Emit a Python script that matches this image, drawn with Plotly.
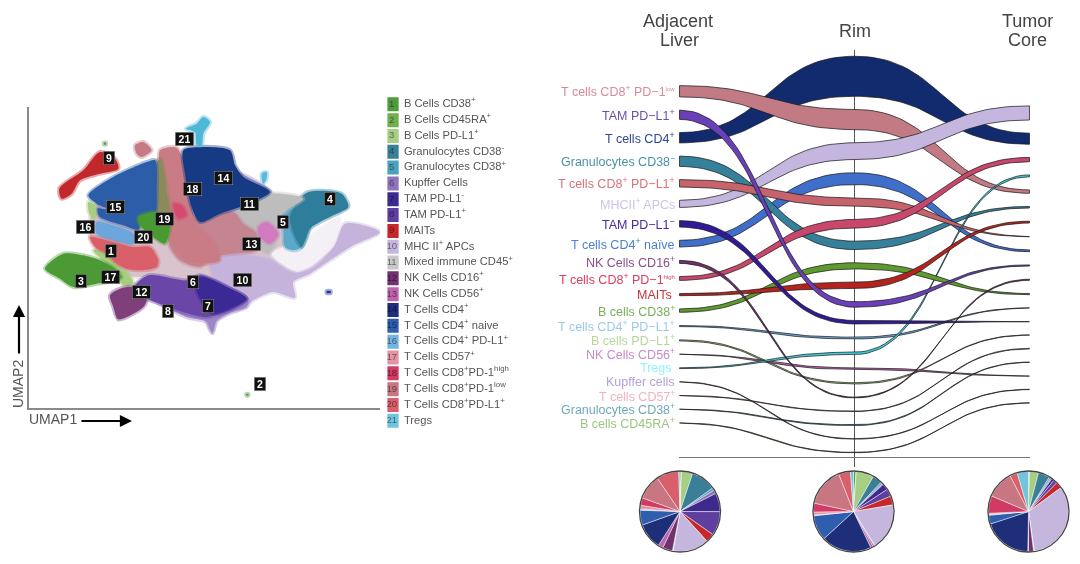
import plotly.graph_objects as go
import numpy as np

W, H = 1080, 564
FONT = "Liberation Sans, Arial, sans-serif"

# ---------- legend / pie data ----------
legend_labels = ["B Cells CD38<sup>+</sup>", "B Cells CD45RA<sup>+</sup>", "B Cells PD-L1<sup>+</sup>",
                 "Granulocytes CD38<sup>-</sup>", "Granulocytes CD38<sup>+</sup>", "Kupffer Cells",
                 "TAM PD-L1<sup>-</sup>", "TAM PD-L1<sup>+</sup>", "MAITs", "MHC II<sup>+</sup> APCs",
                 "Mixed immune CD45<sup>+</sup>", "NK Cells CD16<sup>+</sup>", "NK Cells CD56<sup>+</sup>",
                 "T Cells CD4<sup>+</sup>", "T Cells CD4<sup>+</sup> naive", "T Cells CD4<sup>+</sup> PD-L1<sup>+</sup>",
                 "T Cells CD57<sup>+</sup>", "T Cells CD8<sup>+</sup>PD-1<sup>high</sup>",
                 "T Cells CD8<sup>+</sup>PD-1<sup>low</sup>", "T Cells CD8<sup>+</sup>PD-L1<sup>+</sup>", "Tregs"]
legend_numbers = list(range(1, 22))
legend_colors = ["#4F9A3C", "#6FAF4F", "#A6CF83", "#3A7F97", "#4CA2BE", "#8F74BC", "#3E2A8E", "#5E3FA0",
                 "#C5272B", "#C5B6DE", "#C8C8C8", "#70326F", "#BE63AE", "#1F2E78", "#2F5EAE", "#74B4E2",
                 "#E394A3", "#D03A64", "#C77682", "#D95F6B", "#72C3DE"]

pie_adjacent = [0.5, 0.1, 4.5, 10, 1, 1.5, 7.5, 9.7, 3.5, 14.5, 0.3, 4, 2, 10.5, 6, 0.5, 1.5, 3, 10, 9, 0.5]
pie_rim = [1, 0.1, 7, 3.8, 0.7, 0.5, 2.5, 3, 3.5, 18.5, 0.3, 0.5, 1, 20, 10, 0.3, 1.2, 3.5, 15.5, 4.7, 1.2]
pie_tumor = [0.3, 0.1, 3.6, 4.6, 0.7, 0.5, 1, 1.5, 2.5, 32.5, 0.3, 2, 0.3, 19.5, 3.5, 0.3, 0.5, 7, 11, 3, 4.5]

# ---------- alluvial data (abundance per stage, listed in stack order) ----------
stages = [["Adjacent", "Liver"], ["Rim"], ["Tumor", "Core"]]
adjacent_order = ["CD8low", "TAM+", "CD4", "Gran-", "CD8PDL1", "MHC", "TAM-", "naive", "NK16", "CD8high", "MAIT",
                  "B38", "CD4PDL1", "BPDL1", "NK56", "Tregs", "Kupffer", "CD57", "Gran+", "B45"]
adjacent_values = [11.3, 9.3, 10.3, 10.3, 7.5, 7.1, 6.5, 6.8, 3.1, 3.8, 2.1, 3.4, 1.1, 1.2, 0.4, 0.8, 0.5, 0.5, 0.5, 0.5]
rim_order = ["CD4", "CD8low", "MHC", "naive", "CD8PDL1", "CD8high", "Gran-", "B38", "MAIT", "TAM+", "TAM-", "CD4PDL1",
             "Tregs", "NK56", "BPDL1", "NK16", "CD57", "Gran+", "Kupffer", "B45"]
rim_values = [40, 20.1, 16.8, 11.8, 8.5, 8.5, 8.4, 6.2, 6.4, 5.5, 3.5, 1.8, 2.4, 1.8, 1.2, 0.8, 0.4, 0.8, 0.4, 0.4]
tumor_order = ["MHC", "CD4", "CD8high", "Tregs", "CD8low", "Gran-", "MAIT", "CD8PDL1", "naive", "TAM+", "NK16", "B38",
               "CD4PDL1", "TAM-", "BPDL1", "CD57", "Gran+", "NK56", "Kupffer", "B45"]
tumor_values = [14.1, 11.1, 4.2, 1.8, 3.4, 1.5, 1.8, 0.5, 1.8, 1.1, 1.1, 1.2, 0.4, 0.2, 0.3, 0.5, 0.3, 0.5, 0.3, 0.3]

ribbon_draw_order = ["B45", "Kupffer", "CD57", "Gran+", "BPDL1", "NK56", "CD4", "CD8low", "MHC", "naive", "Gran-",
                     "CD8PDL1", "CD8high", "CD4PDL1", "Tregs", "B38", "MAIT", "TAM-", "NK16", "TAM+"]
ribbon_colors = {"CD4": "#122A6E", "CD8low": "#C27A85", "MHC": "#C5B6E0", "naive": "#3F6FCB", "CD8PDL1": "#C7636C",
                 "CD8high": "#C9476B", "Gran-": "#35809A", "B38": "#5E9A2E", "MAIT": "#B5231F", "TAM+": "#6A3FB8",
                 "TAM-": "#321A96", "CD4PDL1": "#6BA8DE", "Tregs": "#3FD0E0", "NK16": "#70326F", "NK56": "#BE63AE",
                 "BPDL1": "#A6CF83", "Kupffer": "#8F74BC", "CD57": "#E394A3", "Gran+": "#4CA2BE", "B45": "#6FAF4F"}
tiny_low = '<sup><span style="font-size:6px">low</span></sup>'
tiny_high = '<sup><span style="font-size:6px">high</span></sup>'
row_labels = {"CD8low": "T cells CD8<sup>+</sup> PD−1" + tiny_low, "TAM+": "TAM PD−L1<sup>+</sup>",
              "CD4": "T cells CD4<sup>+</sup>", "Gran-": "Granulocytes CD38<sup>−</sup>",
              "CD8PDL1": "T cells CD8<sup>+</sup> PD−L1<sup>+</sup>", "MHC": "MHCII<sup>+</sup> APCs",
              "TAM-": "TAM PD−L1<sup>−</sup>", "naive": "T cells CD4<sup>+</sup> naïve",
              "NK16": "NK Cells CD16<sup>+</sup>", "CD8high": "T cells CD8<sup>+</sup> PD−1" + tiny_high,
              "MAIT": "MAITs&nbsp;", "B38": "B cells CD38<sup>+</sup>", "CD4PDL1": "T cells CD4<sup>+</sup> PD−L1<sup>+</sup>",
              "BPDL1": "B cells PD−L1<sup>+</sup>", "NK56": "NK Cells CD56<sup>+</sup>", "Tregs": "Tregs&nbsp;",
              "Kupffer": "Kupffer cells", "CD57": "T cells CD57<sup>+</sup>", "Gran+": "Granulocytes CD38<sup>+</sup>",
              "B45": "B cells CD45RA<sup>+</sup>"}
label_colors = {"CD8low": "#D88B97", "TAM+": "#6A4FB0", "CD4": "#2E4790", "Gran-": "#4A93A5", "CD8PDL1": "#D9727C",
                "MHC": "#CFC3E8", "TAM-": "#4A2A9E", "naive": "#4C7FD1", "NK16": "#8C4F87", "CD8high": "#D8405F",
                "MAIT": "#C9333A", "B38": "#79AF57", "CD4PDL1": "#9CC8F0", "BPDL1": "#B6D89A", "NK56": "#C98ACD",
                "Tregs": "#8FF5FA", "Kupffer": "#B3A1DB", "CD57": "#EDB4BF", "Gran+": "#6EA9BC", "B45": "#9CC57F"}
stack_gap = 13.2

# ---------- UMAP cluster outlines (embedding units) ----------
umap_haze = [(480,200),(560,200),(700,240),(820,310),(860,480),(880,560),(700,620),(560,575),(450,560),(380,555),(290,470),(265,420),(290,340),(400,300)]
umap_mhc = [(630,510),(700,490),(800,505),(870,530),(890,545),(940,520),(1000,470),(1035,400),(1140,425),(1060,465),(990,510),(930,550),(880,575),(885,622),(820,605),(760,630),(735,650),(690,665),(650,690),(637,728),(620,695),(640,640),(700,610),(640,560)]
umap_wisp = [(715,250),(760,268),(800,300),(770,300),(730,275)]
umap_white = [(815,490),(905,450),(1020,380),(1000,460),(930,530),(880,540)]
umap_gran5 = [(840,360),(905,325),(930,400),(905,470),(880,480),(855,470),(850,420)]
umap_gran4 = [(900,325),(925,305),(1025,310),(1045,350),(1000,375),(930,415),(905,470),(885,440),(870,380)]
umap_mixed = [(700,350),(815,310),(910,325),(860,360),(830,390),(835,440),(805,490),(770,470),(720,420)]
umap_nk56 = [(775,410),(800,395),(835,430),(810,460),(780,440)]
umap_mixcenter = [(505,395),(590,385),(650,370),(700,365),(730,400),(770,430),(770,480),(700,490),(640,500),(600,530),(540,510),(510,470)]
umap_cd8low = [(480,180),(530,172),(555,230),(590,400),(640,450),(660,510),(600,520),(560,510),(520,470),(510,410),(500,300),(480,230)]
umap_olive = [(462,235),(482,205),(500,300),(510,400),(470,375)]
umap_cd8high = [(520,340),(545,345),(560,375),(535,385)]
umap_cd4 = [(550,180),(600,170),(690,180),(705,225),(730,260),(810,305),(770,330),(720,350),(660,370),(600,395),(575,350),(555,250)]
umap_naive = [(265,315),(340,260),(440,215),(465,210),(470,300),(465,370),(425,395),(415,418),(370,405),(300,380),(290,355),(340,362),(290,340)]
umap_cd4pdl1 = [(290,395),(340,405),(400,430),(400,460),(340,450),(290,430)]
umap_bpdl1 = [(265,335),(285,345),(285,385),(268,370)]
umap_bpdl1b = [(280,480),(340,490),(350,520),(385,550),(400,580),(370,585),(330,530)]
umap_b38 = [(415,380),(465,365),(495,385),(510,400),(495,460),(460,440),(420,405)]
umap_cd8pdl1 = [(270,440),(340,455),(400,470),(450,470),(475,510),(470,530),(420,540),(380,535),(350,520),(320,490),(285,470)]
umap_bcd38 = [(135,535),(190,490),(250,495),(300,510),(345,535),(365,560),(350,570),(290,580),(220,590),(180,565)]
umap_fringe = [(470,635),(560,662),(640,680),(710,650),(745,630),(740,650),(690,668),(650,692),(637,728),(620,695),(560,680)]
umap_tamplus = [(400,595),(445,555),(560,570),(600,555),(700,600),(740,625),(700,655),(620,680),(560,668),(480,640),(440,625)]
umap_tamminus = [(600,560),(680,590),(740,625),(700,650),(640,670),(610,640),(590,600)]
umap_nk16 = [(330,615),(360,595),(395,590),(440,625),(430,650),(355,687),(340,650)]
umap_mait = [(178,295),(250,240),(300,185),(345,205),(355,235),(300,250),(240,270),(215,310),(185,325)]
umap_mait_pink = [(405,165),(430,155),(455,180),(425,200),(410,190)]
umap_tregs = [(590,100),(610,80),(630,95),(610,130),(605,165),(590,165),(585,125),(558,115)]
umap_spot = [(785,250),(800,245),(800,265),(790,280)]
umap_dot = [(980,602),(992,602),(992,608),(980,608)]
umap_speck = [(739,911),(745,911),(745,916),(739,916)]
umap_speck2 = [(312,157),(318,157),(318,163),(312,163)]

umap_clusters = [
    (umap_haze, "#D9C3CC"), (umap_mhc, "#C5B3DC"), (umap_wisp, "#C5B3DC"), (umap_white, "#F4F1F6"), (umap_gran5, "#5BA8C8"),
    (umap_gran4, "#2E7D9B"), (umap_mixed, "#BDBDBD"), (umap_mixcenter, "#C58590"), (umap_nk56, "#D37AC0"),
    (umap_cd8low, "#C97C86"), (umap_olive, "#8A8A5A"), (umap_cd8high, "#D64A70"), (umap_cd4, "#173A85"),
    (umap_naive, "#2C5DA8"), (umap_cd4pdl1, "#6CA6DC"), (umap_bpdl1, "#A8CC80"), (umap_bpdl1b, "#A8CC80"),
    (umap_b38, "#4A9A32"), (umap_cd8pdl1, "#D9606A"), (umap_bcd38, "#4C9A35"), (umap_fringe, "#9C84C8"),
    (umap_tamplus, "#6A46A8"), (umap_tamminus, "#3B2A95"), (umap_nk16, "#7E3F7A"), (umap_mait, "#C0282B"),
    (umap_mait_pink, "#C77A85"), (umap_tregs, "#4FB8D8"), (umap_spot, "#5BB8E0"), (umap_dot, "#1F3A9A"),
    (umap_speck, "#4F9A3C"), (umap_speck2, "#4F9A3C"),
]
badge_numbers = [str(n) for n in range(1, 22)]
badge_x = [333, 781, 243, 990, 848, 580, 623, 505, 327, 727, 747, 425, 755, 671, 346, 257, 330, 576, 494, 430, 552]
badge_y = [481, 882, 572, 327, 395, 575, 648, 661, 203, 569, 340, 606, 462, 264, 350, 409, 561, 297, 387, 441, 145]

def dx(a, b):
    return [a / W, b / W]

def dy(top, bottom):
    return [1 - bottom / H, 1 - top / H]

fig = go.Figure()

# ---------- UMAP ----------
for pts, col in umap_clusters:
    xs = [p[0] for p in pts] + [pts[0][0]]
    ys = [p[1] for p in pts] + [pts[0][1]]
    r, g, b = int(col[1:3], 16), int(col[3:5], 16), int(col[5:7], 16)
    fig.add_trace(go.Scatter(x=xs, y=ys, xaxis="x", yaxis="y", mode="lines", fill="toself", fillcolor=col,
                             line=dict(color=f"rgba({r},{g},{b},0.4)", width=4, shape="spline", smoothing=0.8),
                             hoverinfo="skip", showlegend=False))

# ---------- legend column ----------
fig.add_trace(go.Scatter(x=[0] * 21, y=legend_numbers, xaxis="x3", yaxis="y3", mode="markers+text",
                         marker=dict(symbol="square", size=14, color=legend_colors),
                         text=[str(n) for n in legend_numbers], textposition="middle center",
                         textfont=dict(family=FONT, size=9.5, color="rgba(0,0,0,0.5)"),
                         hoverinfo="skip", showlegend=False))
fig.add_trace(go.Scatter(x=[0.72] * 21, y=legend_numbers, xaxis="x3", yaxis="y3", mode="text",
                         text=legend_labels, textposition="middle right",
                         textfont=dict(family=FONT, size=11.2, color="#555555"),
                         hoverinfo="skip", showlegend=False))

# ---------- alluvial ----------
def stack(order, values):
    total = sum(values) + stack_gap * (len(values) - 1)
    top = -total / 2
    out = {}
    for name, v in zip(order, values):
        out[name] = (top, top + v)
        top += v + stack_gap
    return out

pos = [stack(adjacent_order, adjacent_values), stack(rim_order, rim_values), stack(tumor_order, tumor_values)]
t = np.linspace(0, 1, 40)

def link(x0, x1, y0, y1):
    xm = (x0 + x1) / 2
    x = x0 * (1 - t) ** 3 + 3 * xm * t * (1 - t) ** 2 + 3 * xm * t ** 2 * (1 - t) + x1 * t ** 3
    y = y0 * ((1 - t) ** 3 + 3 * t * (1 - t) ** 2) + y1 * (3 * t ** 2 * (1 - t) + t ** 3)
    return x, y

for name in ribbon_draw_order:
    top_x, top_y, bot_x, bot_y = [], [], [], []
    for s in range(2):
        a, b = pos[s][name], pos[s + 1][name]
        x, y = link(s, s + 1, a[0], b[0])
        top_x.extend(x); top_y.extend(y)
        x, y = link(s, s + 1, a[1], b[1])
        bot_x.extend(x); bot_y.extend(y)
    xs = top_x + bot_x[::-1] + [top_x[0]]
    ys = top_y + bot_y[::-1] + [top_y[0]]
    fig.add_trace(go.Scatter(x=xs, y=ys, xaxis="x2", yaxis="y2", mode="lines", fill="toself",
                             fillcolor=ribbon_colors[name],
                             line=dict(color="rgba(25,25,25,0.72)", width=1),
                             hoverinfo="skip", showlegend=False))

# ---------- pies ----------
pie_centers = [(680, 511.5), (853.5, 511.5), (1028.5, 511.5)]
pie_r = 40
shapes = []
for vals, (cx, cy) in zip([pie_adjacent, pie_rim, pie_tumor], pie_centers):
    fig.add_trace(go.Pie(values=vals, labels=legend_labels, sort=False, direction="clockwise", rotation=0,
                         textinfo="none", hoverinfo="skip", showlegend=False,
                         marker=dict(colors=legend_colors, line=dict(color="rgba(255,255,255,0.75)", width=0.6)),
                         domain=dict(x=dx(cx - pie_r, cx + pie_r), y=dy(cy - pie_r, cy + pie_r))))
    shapes.append(dict(type="circle", xref="paper", yref="paper", x0=(cx - pie_r - .5) / W, x1=(cx + pie_r + .5) / W,
                       y0=1 - (cy + pie_r + .5) / H, y1=1 - (cy - pie_r - .5) / H,
                       line=dict(color="#444444", width=1.3)))

# ---------- text ----------
ann = []
for name in adjacent_order:
    a = pos[0][name]
    ann.append(dict(x=0, y=(a[0] + a[1]) / 2, xref="x2", yref="y2", xanchor="right", yanchor="middle", xshift=-3,
                    text=row_labels[name], showarrow=False,
                    font=dict(family=FONT, size=12.5, color=label_colors[name])))
stage_line_y = [[21, 40], [31], [21, 40]]
stage_shift = [[-2, 0], [0], [-1.5, -1.5]]
for s, (words, ys, shifts) in enumerate(zip(stages, stage_line_y, stage_shift)):
    for word, yy, sh in zip(words, ys, shifts):
        ann.append(dict(x=s, y=1 - yy / H, xref="x2", yref="paper", xanchor="center", yanchor="middle", xshift=sh,
                        text=word, showarrow=False, font=dict(family=FONT, size=18, color="#444444")))

for num, bx, by in zip(badge_numbers, badge_x, badge_y):
    ann.append(dict(x=bx, y=by, xref="x", yref="y", text=f"<b>{num}</b>", showarrow=False, bgcolor="#111111",
                    bordercolor="#999999", borderwidth=0.5, borderpad=0, width=18 if len(num) > 1 else 11, height=13,
                    font=dict(family=FONT, size=10.5, color="white")))

# axis captions and arrows
ann.append(dict(x=27 / W, y=1 - 419 / H, xref="paper", yref="paper", xanchor="left", yanchor="middle", text="UMAP1",
                showarrow=False, font=dict(family=FONT, size=14, color="#555555")))
ann.append(dict(x=18 / W, y=1 - 384 / H, xref="paper", yref="paper", xanchor="center", yanchor="middle", text="UMAP2",
                textangle=-90, showarrow=False, font=dict(family=FONT, size=14, color="#555555")))
ann.append(dict(x=132 / W, y=1 - 421 / H, ax=-52, ay=0, xref="paper", yref="paper", axref="pixel",
                ayref="pixel", text="", showarrow=True, arrowhead=2, arrowsize=1.1, arrowwidth=2.2, arrowcolor="black"))
ann.append(dict(x=19 / W, y=1 - 305 / H, ax=0, ay=50, xref="paper", yref="paper", axref="pixel",
                ayref="pixel", text="", showarrow=True, arrowhead=2, arrowsize=1.1, arrowwidth=2.2, arrowcolor="black"))

hidden = dict(showgrid=False, zeroline=False, showticklabels=False, ticks="", showline=False, fixedrange=True)
fig.update_layout(
    width=W, height=H, margin=dict(l=0, r=0, t=0, b=0), paper_bgcolor="white", plot_bgcolor="rgba(0,0,0,0)",
    showlegend=False, shapes=shapes, annotations=ann, font=dict(family=FONT),
    xaxis=dict(domain=dx(29, 380), range=[87, 1140], anchor="y", zeroline=False, showgrid=False, showticklabels=False,
               ticks="", showline=True, linecolor="#8A8A8A", linewidth=1.6),
    yaxis=dict(domain=dy(107, 408), range=[953, 50], anchor="x", zeroline=False, showgrid=False, showticklabels=False,
               ticks="", showline=True, linecolor="#8A8A8A", linewidth=1.6),
    xaxis2=dict(domain=dx(679, 1030), range=[-0.003, 2.003], anchor="y2", tickvals=[0, 1, 2], showgrid=True,
                gridcolor="#555555", gridwidth=1.2, zeroline=False, showticklabels=False, ticks=""),
    yaxis2=dict(domain=dy(50, 467), range=[212.5, -204.5], anchor="x2", tickvals=[202.5], showgrid=True,
                gridcolor="#777777", gridwidth=1.2, zeroline=False, showticklabels=False, ticks=""),
    xaxis3=dict(domain=dx(387.4, 562), range=[-0.25, 10], anchor="y3", **hidden),
    yaxis3=dict(domain=dy(96.4, 428.7), range=[21.5, 0.5], anchor="x3", **hidden),
)
fig.write_html("out.html", config=dict(displayModeBar=False),
               post_script="document.body.style.margin='0';document.body.style.overflow='hidden';"
                           "var g=document.querySelector('.subplot.xy .plot');if(g){g.style.filter='blur(3px)';}"
                           "document.body.style.filter='blur(0.35px)';")
